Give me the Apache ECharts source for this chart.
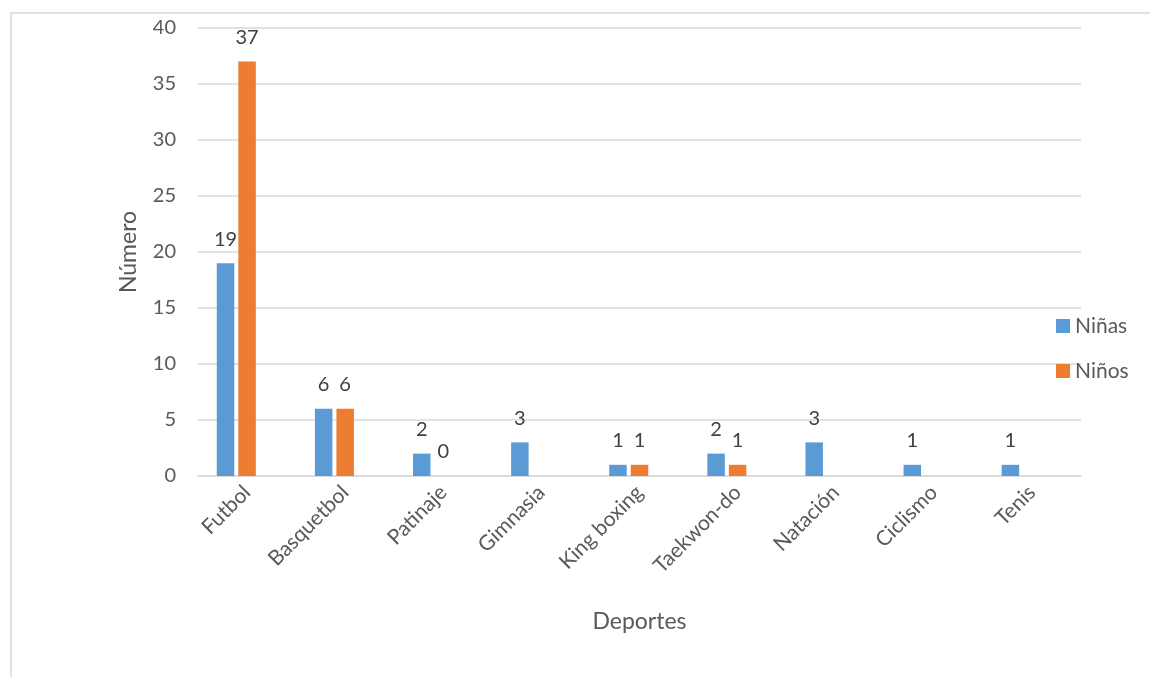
<!DOCTYPE html>
<html>
<head>
<meta charset="utf-8">
<script src="https://cdn.jsdelivr.net/npm/echarts@6/dist/echarts.min.js"></script>
<style>
  html, body { margin: 0; padding: 0; background: #fff; }
  #chart { width: 1150px; height: 677px; }
</style>
</head>
<body>
<div id="chart"></div>
<script>
// Deportes practicados por niñas y niños
const deportes = ['Futbol', 'Basquetbol', 'Patinaje', 'Gimnasia', 'King boxing', 'Taekwon-do', 'Natación', 'Ciclismo', 'Tenis'];
const ninas = [19, 6, 2, 3, 1, 2, 3, 1, 1];
const ninos = [37, 6, 0, null, 1, 1, null, null, null];
// third slot of each group is kept empty (total column left blank)
const total = [null, null, null, null, null, null, null, null, null];
const yTicks = [0, 5, 10, 15, 20, 25, 30, 35, 40];

const FONT = 'Lato, "Open Sans", sans-serif';
const TEXT = '#595959';
const GRID = '#d9d9d9';

const chart = echarts.init(document.getElementById('chart'), null, { renderer: 'canvas' });

const labelStyle = {
  show: true,
  position: 'top',
  distance: 14,
  color: '#404040',
  fontFamily: FONT,
  fontSize: 20
};

const BAR_W = 17.5;
const BAR_GAP = '23%';

chart.setOption({
  animation: false,
  backgroundColor: '#fff',
  graphic: [{
    type: 'rect',
    shape: { x: 11, y: 13, width: 1160, height: 700 },
    style: { fill: 'none', stroke: '#d9d9d9', lineWidth: 1.5 },
    silent: true,
    z: -1
  }],
  legend: {
    orient: 'vertical',
    left: 1056,
    top: 315,
    padding: 0,
    itemWidth: 14,
    itemHeight: 14,
    itemGap: 23,
    icon: 'rect',
    textStyle: { color: TEXT, fontFamily: FONT, fontSize: 21, lineHeight: 22 },
    data: ['Niñas', 'Niños']
  },
  grid: { left: 198, right: 69, top: 28, bottom: 201, containLabel: false },
  xAxis: {
    type: 'category',
    data: deportes,
    name: 'Deportes',
    nameLocation: 'middle',
    nameGap: 134,
    nameTextStyle: { color: TEXT, fontFamily: FONT, fontSize: 23 },
    axisLine: { show: true, lineStyle: { color: GRID, width: 1.5 } },
    axisTick: { show: false },
    axisLabel: {
      rotate: 45,
      interval: 0,
      margin: 13,
      color: TEXT,
      fontFamily: FONT,
      fontSize: 21
    }
  },
  yAxis: {
    type: 'value',
    min: yTicks[0],
    max: yTicks[yTicks.length - 1],
    interval: 5,
    name: 'Número',
    nameLocation: 'middle',
    nameGap: 58,
    nameRotate: 90,
    nameTextStyle: { color: TEXT, fontFamily: FONT, fontSize: 23 },
    axisLine: { show: false },
    axisTick: { show: false },
    axisLabel: { color: TEXT, fontFamily: FONT, fontSize: 20, margin: 22 },
    splitLine: { lineStyle: { color: GRID, width: 1.5 } }
  },
  series: [
    {
      name: 'Niñas',
      type: 'bar',
      data: ninas,
      itemStyle: { color: '#5b9bd5' },
      barWidth: BAR_W,
      barGap: BAR_GAP,
      label: labelStyle
    },
    {
      name: 'Niños',
      type: 'bar',
      data: ninos,
      itemStyle: { color: '#ed7d31' },
      barWidth: BAR_W,
      barGap: BAR_GAP,
      label: labelStyle
    },
    {
      name: 'Total',
      type: 'bar',
      data: total,
      itemStyle: { color: '#a5a5a5' },
      barWidth: BAR_W,
      barGap: BAR_GAP
    }
  ]
});
</script>
</body>
</html>
